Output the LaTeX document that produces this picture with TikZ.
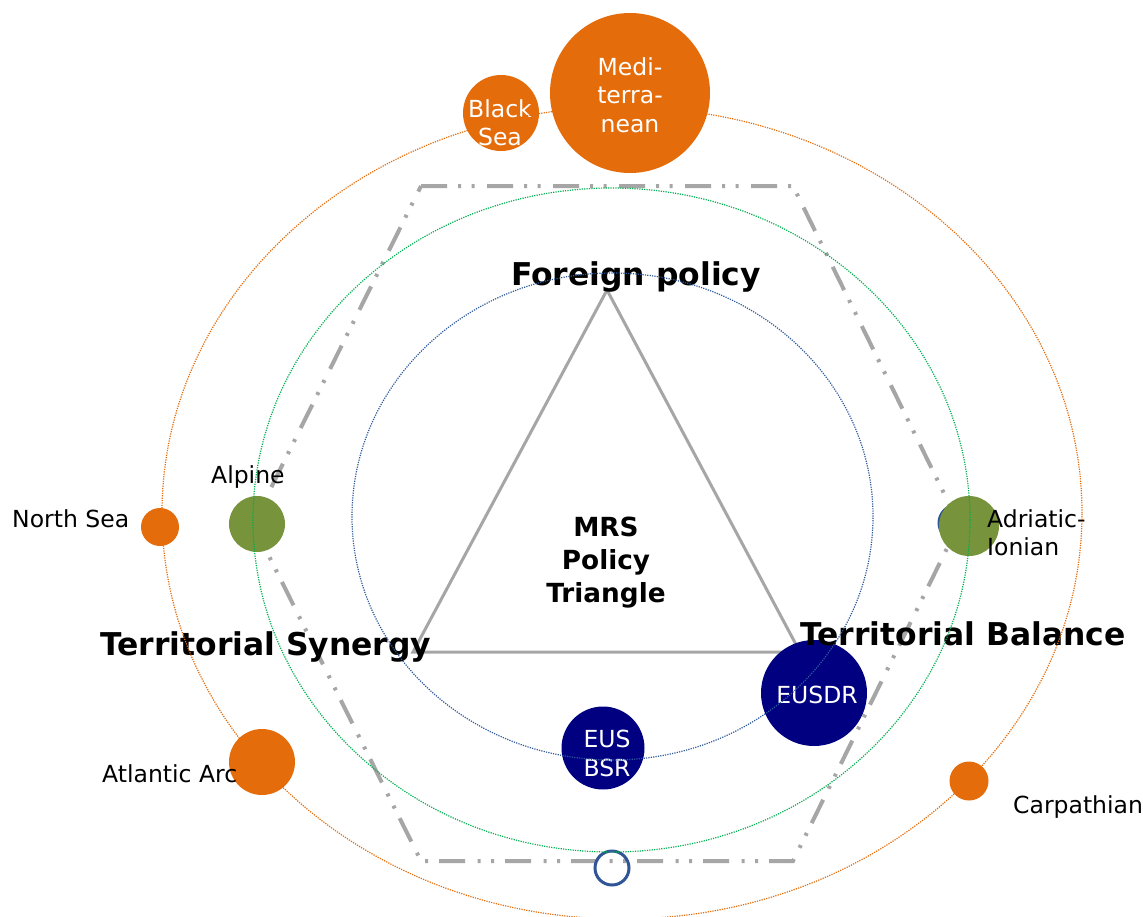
\documentclass[tikz,border=0pt]{standalone}
\usepackage{fontspec}
\setmainfont{DejaVu Sans}
\definecolor{orng}{HTML}{E46C0A}
\definecolor{olivec}{HTML}{77933C}
\definecolor{navyc}{HTML}{000080}
\definecolor{greenl}{HTML}{00B050}
\definecolor{bluel}{HTML}{2E5A9C}
\definecolor{ringc}{HTML}{2F5597}
\definecolor{greyl}{HTML}{A6A6A6}
\begin{document}
\begin{tikzpicture}[x=1pt,y=-1pt,
  disc/.style={circle,inner sep=0pt,draw=none,minimum size=#1},
  ringnode/.style={circle,inner sep=0pt,draw=ringc,line width=3pt,fill=none,minimum size=#1},
  wl/.style={anchor=base,text=white,font=\fontsize{23.5}{28}\selectfont,inner sep=0pt},
  bl/.style={anchor=base west,text=black,font=\fontsize{23.5}{28}\selectfont,inner sep=0pt},
  big/.style={anchor=base west,text=black,font=\fontsize{31.4}{36}\selectfont\bfseries,inner sep=0pt},
  mid/.style={anchor=base,text=black,font=\fontsize{26.3}{32}\selectfont\bfseries,inner sep=0pt},
  hexline/.style={draw=greyl,line width=4pt,line join=miter,dash pattern=on 26pt off 11pt on 3pt off 10.5pt on 3pt off 12.5pt},
  triline/.style={draw=greyl,line width=3pt,line join=miter},
  dotline/.style={line width=1.2pt,dash pattern=on 1.2pt off 1.2pt}]
\useasboundingbox (0,0) rectangle (1143,916);
\fill[white] (0,0) rectangle (1143,916);

% hexagon
\coordinate (h1) at (421,186);
\coordinate (h2) at (793,186);
\coordinate (h3) at (959,524);
\coordinate (h4) at (793,861);
\coordinate (h5) at (421,861);
\coordinate (h6) at (253,524);
\draw[hexline] (h1) -- (h2) -- (h3) -- (h4) -- (h5) -- (h6) -- cycle;

% triangle
\coordinate (tA) at (607,290);
\coordinate (tB) at (800,652);
\coordinate (tC) at (413,652);
\draw[triline] (tA) -- (tB) -- (tC) -- cycle;

% circles
\node[ringnode=36pt] (adrb) at (957,523) {};
\node[ringnode=34pt] (bot) at (612,868) {};
\node[disc=160pt,fill=orng] (med) at (630,93) {};
\node[disc=76pt,fill=orng] (bsea) at (501,113) {};
\node[disc=38pt,fill=orng] (nsea) at (160,527) {};
\node[disc=66pt,fill=orng] (atl) at (262,762) {};
\node[disc=39pt,fill=orng] (carp) at (969,781) {};
\node[disc=56pt,fill=olivec] (alp) at (257,524) {};
\node[disc=60pt,fill=olivec] (adr) at (969,526) {};
\node[disc=106pt,fill=navyc] (eusdr) at (814,693) {};
\node[disc=83pt,fill=navyc] (eusbsr) at (603,748) {};

% white labels
\node[wl] (med1) at (630,75) {Medi-};
\node[wl] (med2) at (630,103.5) {terra-};
\node[wl] (med3) at (630,132) {nean};
\node[wl] (bs1) at (500,117) {Black};
\node[wl] (bs2) at (500,145.5) {Sea};
\node[wl] (eusdrl) at (817,703) {EUSDR};
\node[wl] (eb1) at (607,747) {EUS};
\node[wl] (eb2) at (607,776) {BSR};

% black labels
\node[bl] (nsl) at (12,527) {North Sea};
\node[bl] (alpl) at (211,483) {Alpine};
\node[bl] (adl1) at (987,527) {Adriatic-};
\node[bl] (adl2) at (987,555) {Ionian};
\node[bl] (atll) at (102,782) {Atlantic Arc};
\node[bl] (carpl) at (1013,813) {Carpathian};

% bold labels
\node[big] (fp) at (511,285) {Foreign policy};
\node[big] (ts) at (100,655) {Territorial Synergy};
\node[big] (tb) at (800,645) {Territorial Balance};
\node[mid] (m1) at (606,536) {MRS};
\node[mid] (m2) at (606,569) {Policy};
\node[mid] (m3) at (606,602) {Triangle};

% ellipses
\draw[dotline,draw=orng] (622,513) ellipse [x radius=460pt, y radius=406pt];
\draw[dotline,draw=greenl] (611.5,520) ellipse [x radius=358.5pt, y radius=332pt];
\draw[dotline,draw=bluel] (612.5,516.5) ellipse [x radius=260.5pt, y radius=243.5pt];
\end{tikzpicture}
\end{document}
